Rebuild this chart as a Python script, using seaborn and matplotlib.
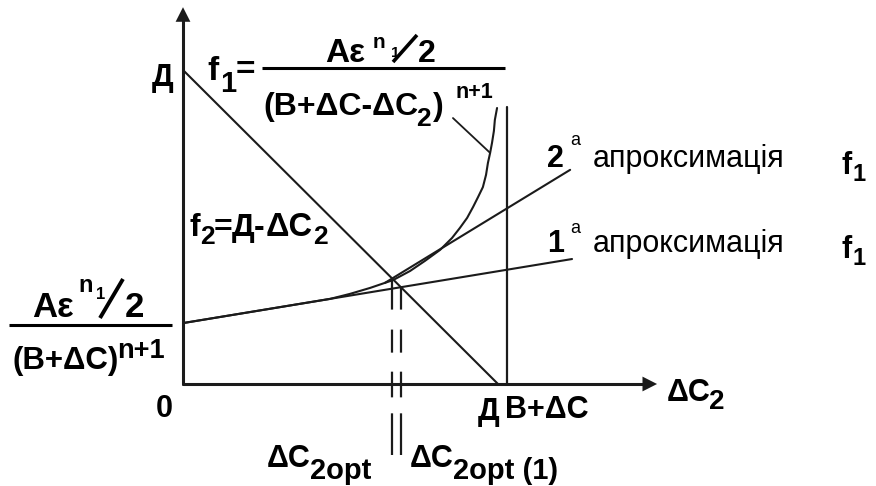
import matplotlib
matplotlib.use("Agg")
import matplotlib.pyplot as plt
import numpy as np
import pandas as pd
import seaborn as sns

# ---- quantities (both axes measured in units of Д) ----
D = 1.0                 # Д : intercept of f2 on both axes
B_PLUS_DC = 1.029       # B+ΔC : vertical asymptote of f1
DC2_OPT = 0.665         # ΔC2opt  (f1 = f2)
DC2_OPT_1 = 0.692       # ΔC2opt(1) (1st approximation = f2)
F1_AT_ZERO = 0.194      # Aε^(n1/2) / (B+ΔC)^(n+1)
X_AXIS_END = 1.505
Y_AXIS_END = 1.200
DASH_BOTTOM = -0.226

# f1 curve traced along its path
f1_x = [0.000, 0.467, 0.530, 0.594, 0.667, 0.721, 0.768, 0.816, 0.854,
        0.879, 0.902, 0.921, 0.937, 0.952, 0.962, 0.968, 0.975, 0.981,
        0.987, 0.990, 0.997]
f1_y = [0.194, 0.271, 0.287, 0.306, 0.331, 0.360, 0.392, 0.427, 0.465,
        0.497, 0.529, 0.564, 0.596, 0.627, 0.666, 0.704, 0.736, 0.768,
        0.806, 0.841, 0.879]

# linear approximations of f1
approx1_x = [0.000, 1.235]
approx1_y = [F1_AT_ZERO, 0.398]
approx2_x = [0.641, 1.229]
approx2_y = [0.322, 0.682]

# f2 = Д - ΔC2
f2_x = [0.0, D]
f2_y = [D, 0.0]

# leader line from the f1 formula to the curve
leader_x = [0.857, 0.975]
leader_y = [0.847, 0.736]

INK = "#1b1b1b"
W, H, DPI = 876, 486, 100
X0, Y0, SX, SY = 183, 384, 315, 314

sns.set_theme(style="white")
plt.rcParams["font.family"] = ["Liberation Sans", "DejaVu Sans"]
plt.rcParams["lines.scale_dashes"] = False

fig = plt.figure(figsize=(W / DPI, H / DPI), dpi=DPI)
ax = fig.add_axes([0, 0, 1, 1])
ax.set_xlim((0 - X0) / SX, (W - X0) / SX)
ax.set_ylim((Y0 - H) / SY, Y0 / SY)
ax.axis("off")


def px(x):
    return (x - X0) / SX


def py(y):
    return (Y0 - y) / SY


def line(xs, ys, lw=1.5, **kw):
    df = pd.DataFrame({"x": xs, "y": ys})
    sns.lineplot(data=df, x="x", y="y", ax=ax, color=INK, lw=lw,
                 sort=False, estimator=None, **kw)


# axes with arrows
line([0, 0], [0, Y_AXIS_END - 0.03], lw=2.2)
line([0, X_AXIS_END - 0.03], [0, 0], lw=2.2)
arrow = dict(arrowstyle="-|>,head_length=0.75,head_width=0.38",
             color=INK, lw=0, mutation_scale=14, shrinkA=0, shrinkB=0)
ax.annotate("", xy=(0, Y_AXIS_END), xytext=(0, Y_AXIS_END - 0.05), arrowprops=arrow)
ax.annotate("", xy=(X_AXIS_END, 0), xytext=(X_AXIS_END - 0.05, 0), arrowprops=arrow)

# curves and lines
line(f2_x, f2_y, lw=1.5)
line([B_PLUS_DC, B_PLUS_DC], [0, 0.882], lw=1.6)
line(f1_x, f1_y, lw=1.5)
line(approx1_x, approx1_y, lw=1.5)
line(approx2_x, approx2_y, lw=1.5)
line(leader_x, leader_y, lw=1.3)

# optimum markers: dashed verticals drawn upward from below the axis to f2
opt_dashes = (30, 11.5, 18.5, 13.7, 16.6, 14.4, 21.6, 36)
for xv in (DC2_OPT, DC2_OPT_1):
    ax.plot([xv, xv], [DASH_BOTTOM, D - xv], color=INK, lw=1.6,
            linestyle=(0, opt_dashes), dash_capstyle="butt")


def lbl(x, y, txt, size=22, bold=True, ha="left"):
    ax.text(px(x), py(y), txt, fontsize=size,
            fontweight="bold" if bold else "normal",
            ha=ha, va="baseline", color="black")


def slash(x1, y1, x2, y2, lw=2.6):
    ax.plot([px(x1), px(x2)], [py(y1), py(y2)], color="black", lw=lw,
            solid_capstyle="butt")


def bar(x1, x2, y):
    ax.plot([px(x1), px(x2)], [py(y), py(y)], color="black", lw=2.2,
            solid_capstyle="butt")


# labels on the axes
lbl(173, 86, "Д", ha="right")
lbl(173, 417, "0", ha="right")
lbl(478, 420, "Д")
lbl(505, 418, "B+ΔC")
lbl(667, 401, "ΔC")
lbl(709, 409, "2", 20)
lbl(267, 467, "ΔC")
lbl(310, 479, "2opt", 21)
lbl(410, 467, "ΔC")
lbl(453, 479, "2opt (1)", 21)

# f1 formula
lbl(207, 80, "f", 24)
lbl(220, 92, "1", 21)
lbl(236, 79, "=", 24)
lbl(325, 62, "Aε", 24)
lbl(373, 48, "n", 15)
lbl(391, 57, "1", 11)
slash(393, 62, 417, 35)
lbl(418, 62, "2", 23)
bar(262, 505, 68)
lbl(263, 115, "(B+ΔC-ΔC", 23)
lbl(416, 126, "2", 19)
lbl(433, 115, ")", 23)
lbl(456, 98, "n+1", 15.5)

# f1 at ΔC2 = 0
lbl(32, 317, "Aε", 25)
lbl(78, 292, "n", 17)
lbl(96, 299, "1", 12)
slash(100, 318, 123, 279, lw=2.8)
lbl(125, 317, "2", 25)
bar(9, 172, 325)
lbl(13, 369, "(B+ΔC)", 22.5)
lbl(117, 358, "n+1", 19.5)

# f2 formula
lbl(190, 236, "f", 23)
lbl(200, 244, "2", 19)
lbl(214, 236, "=", 23)
lbl(232, 236, "Д", 23)
lbl(254, 236, "-", 23)
lbl(266, 236, "ΔC", 23.5)
lbl(313, 244, "2", 19)

# approximation labels
lbl(547, 167, "2")
lbl(570, 145, "a", 13, bold=False)
lbl(593, 167, "апроксимація", 22, bold=False)
lbl(842, 174, "f")
lbl(853, 181, "1", 17)
lbl(547, 252, "1")
lbl(570, 233, "a", 13, bold=False)
lbl(593, 252, "апроксимація", 22, bold=False)
lbl(842, 258, "f")
lbl(853, 265, "1", 17)

fig.savefig("out.png", dpi=DPI)
